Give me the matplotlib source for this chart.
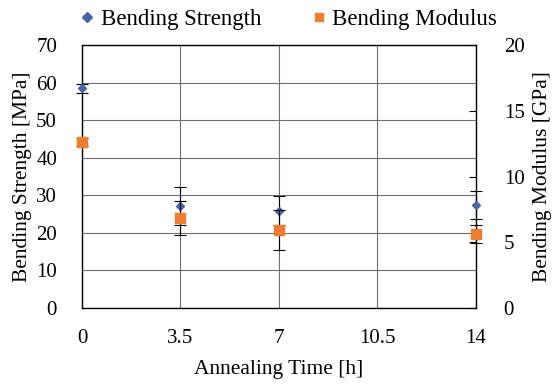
import matplotlib
matplotlib.use("Agg")
import matplotlib.pyplot as plt
from matplotlib.lines import Line2D

time_h = [0, 3.5, 7, 14]
strength_mpa = [58.5, 27.2, 25.9, 27.4]
strength_err = [1.2, 5.1, 3.9, 3.8]
modulus_gpa = [12.6, 6.87, 5.94, 5.63]
modulus_err = [0.3, 1.3, 1.5, 0.7]
x_ticks = [0, 3.5, 7, 10.5, 14]
x_tick_labels = ["0", "3.5", "7", "10.5", "14"]

blue = "#4A64A8"
orange = "#ED7D31"

plt.rcParams['font.family'] = ['Liberation Serif', 'DejaVu Serif']
fs = 15

fig = plt.figure(figsize=(5.56, 3.85), dpi=100)
ax = fig.add_axes([0.1475, 0.2, 0.856 - 0.1475, 0.683])
ax2 = ax.twinx()

ax.set_xlim(0, 14)
ax.set_ylim(0, 70)
ax2.set_ylim(0, 20)
ax.set_xticks(x_ticks)
ax.set_xticklabels(x_tick_labels)
ax.set_yticks(range(0, 71, 10))
ax2.set_yticks(range(0, 21, 5))

ax.grid(True, axis='both', color='#6E6E6E', linewidth=0.8)
ax.set_axisbelow(True)
for sp in ax.spines.values():
    sp.set_color('black')
    sp.set_linewidth(1.0)
for sp in ax2.spines.values():
    sp.set_visible(False)

ax.tick_params(axis='both', which='both', length=0, labelsize=fs)
ax.tick_params(axis='y', pad=18)
ax.tick_params(axis='x', pad=15)
ax2.tick_params(axis='y', direction='in', length=5, width=0.8, labelsize=fs, pad=20)

ax.errorbar(time_h, strength_mpa, yerr=strength_err, fmt='D', color=blue,
            markersize=4.5, ecolor='black', elinewidth=0.8, capsize=4, capthick=0.8,
            clip_on=False, zorder=5)
ax2.errorbar(time_h, modulus_gpa, yerr=modulus_err, fmt='s', color=orange,
             markersize=7.5, ecolor='black', elinewidth=0.8, capsize=4, capthick=0.8,
             clip_on=False, zorder=5)

ax.set_xlabel("Annealing Time [h]", fontsize=fs + 0.5, labelpad=9)
ax.set_ylabel("Bending Strength [MPa]", fontsize=fs + 0.5, labelpad=3)
ax2.set_ylabel("Bending Modulus [GPa]", fontsize=fs + 0.5, labelpad=6)

handles = [Line2D([], [], marker='D', color=blue, linestyle='None', markersize=5),
           Line2D([], [], marker='s', color=orange, linestyle='None', markersize=6)]
fig.legend(handles, ["Bending Strength", "Bending Modulus"], loc='upper center',
           bbox_to_anchor=(0.515, 1.03), ncol=2, frameon=False, fontsize=16.5,
           handletextpad=0.1, columnspacing=2.0, handlelength=1.0)

fig.savefig("out.png", dpi=100)
